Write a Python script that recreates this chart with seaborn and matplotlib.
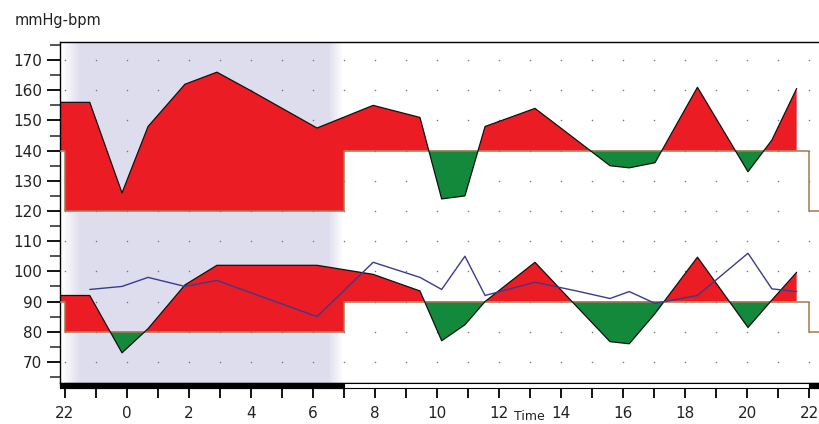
import numpy as np
import pandas as pd
import seaborn as sns
import matplotlib.pyplot as plt
import matplotlib.transforms as mtransforms
from matplotlib.ticker import MultipleLocator

# readings, hours counted from 22:00
times = [-0.16, 0.8, 1.84, 2.68, 3.87, 4.9, 5.97, 8.13, 9.94, 11.45, 12.15,
         12.9, 13.55, 15.16, 16.5, 17.58, 18.2, 19.03, 20.4, 22.03, 22.8, 23.6]
systolic = [156, 156, 126, 148, 162, 166, 160, 147.5, 155, 151, 124,
            125, 148, 154, 143.5, 135, 134.3, 136, 161, 133, 143.5, 160.6]
diastolic = [92, 92, 73, 81, 95.5, 102, 102, 102, 99, 93.5, 77,
             82.3, 90, 103, 88.4, 76.7, 76, 86, 104.7, 81.4, 90.5, 99.7]
heart_rate = [np.nan, 94, 95, 98, 95, 97, 93, 85, 103, 98, 94,
              105, 92, 96.4, 93.5, 91, 93.3, 89.4, 92, 106, 94.2, 93.3]

# day / night limits
night_from, night_to, next_night = 0, 9, 24       # 22:00 -> 07:00, 22:00
sleep_in = (-0.1, 0.48)     # lavender fade-in
sleep_out = (8.5, 8.97)     # lavender fade-out
sys_day, sys_night = 140, 120
dia_day, dia_night = 90, 80

hour_ticks = list(range(0, 25))
hour_labels = ['22', '', '0', '', '2', '', '4', '', '6', '', '8', '', '10', '',
               '12', '', '14', '', '16', '', '18', '', '20', '', '22']
y_major = list(range(70, 171, 10))

xmin, xmax = -0.16, 24.32
ymin, ymax = 63, 176

red = '#ec1c24'
green = '#13893c'
lavender = (0.871, 0.867, 0.933)
limit_col = '#a27a50'

sns.set_style('ticks')
plt.rcParams['font.family'] = ['DejaVu Sans']

fig = plt.figure(figsize=(8.19, 4.24), dpi=100)
ax = fig.add_axes([60 / 819, 41 / 424, 1 - 60 / 819, 341 / 424])


def limit(t, day, night):
    t = np.asarray(t)
    is_night = ((t >= night_from) & (t < night_to)) | (t >= next_night)
    return np.where(is_night, night, day)


# sleep shading with soft edges
xs = np.linspace(xmin, xmax, 1200)
a = np.minimum((xs - sleep_in[0]) / (sleep_in[1] - sleep_in[0]),
               (sleep_out[1] - xs) / (sleep_out[1] - sleep_out[0]))
rgba = np.ones((1, len(xs), 4))
rgba[..., :3] = lavender
rgba[..., 3] = np.clip(a, 0, 1)
ax.imshow(rgba, extent=[xmin, xmax, ymin, ymax], aspect='auto', zorder=0,
          interpolation='bilinear')

# dotted lattice
gx, gy = np.meshgrid(hour_ticks, y_major)
ax.scatter(gx.ravel(), gy.ravel(), s=1.2, color='#777777', zorder=1, linewidths=0)

# red / green areas against the limit
t_fill = np.union1d(np.linspace(times[0], times[-1], 4000),
                    [night_from - 1e-6, night_from, night_to - 1e-6, night_to])
for vals, day, night in [(systolic, sys_day, sys_night), (diastolic, dia_day, dia_night)]:
    v = np.interp(t_fill, times, vals)
    thr = limit(t_fill, day, night)
    ax.fill_between(t_fill, v, thr, where=v >= thr, interpolate=True,
                    color=red, lw=0, zorder=2)
    ax.fill_between(t_fill, v, thr, where=v <= thr, interpolate=True,
                    color=green, lw=0, zorder=2)
    # limit line
    ax.plot([xmin, night_from, night_to, next_night, xmax],
            [day, night, day, night, night], drawstyle='steps-post',
            color=limit_col, lw=1.1, zorder=3)

df = pd.DataFrame({'t': times, 'sys': systolic, 'dia': diastolic, 'hr': heart_rate})
sns.lineplot(data=df, x='t', y='sys', ax=ax, color='#111111', lw=0.9,
             estimator=None, sort=False, zorder=4)
sns.lineplot(data=df, x='t', y='dia', ax=ax, color='#111111', lw=0.9,
             estimator=None, sort=False, zorder=4)
sns.lineplot(data=df.dropna(), x='t', y='hr', ax=ax, color='#3b3b8e', lw=1.0,
             estimator=None, sort=False, zorder=5)

ax.set_xlim(xmin, xmax)
ax.set_ylim(ymin, ymax)
ax.set_xlabel('')
ax.set_ylabel('')

# night/day bar under the axis
trans = mtransforms.blended_transform_factory(ax.transData, ax.transAxes)
bar_h = 5 / 341
ax.broken_barh([(xmin, xmax - xmin)], (-bar_h, bar_h), transform=trans,
               facecolor='white', edgecolor='black', lw=0.8, clip_on=False, zorder=6)
ax.broken_barh([(xmin, night_to - xmin), (next_night, xmax - next_night)],
               (-bar_h, bar_h), transform=trans, facecolor='black',
               edgecolor='black', lw=0.8, clip_on=False, zorder=7)

ax.set_xticks(hour_ticks)
ax.set_xticklabels(hour_labels)
ax.set_yticks(y_major)
ax.yaxis.set_minor_locator(MultipleLocator(5))
ax.tick_params(axis='x', which='major', direction='out', length=10.8, width=1.3,
               pad=5.5, labelsize=11, colors='black')
ax.tick_params(axis='y', which='major', direction='out', length=9.5, width=1.3,
               pad=3.5, labelsize=11, colors='black')
ax.tick_params(axis='y', which='minor', direction='out', length=7, width=1.1)
for lab in ax.get_xticklabels() + ax.get_yticklabels():
    lab.set_color('#222222')

ax.spines['right'].set_visible(False)
for s in ['left', 'top', 'bottom']:
    ax.spines[s].set_color('black')
    ax.spines[s].set_linewidth(1.0)

fig.text(15 / 819, 1 - 21 / 424, 'mmHg-bpm', fontsize=10.5, va='center',
         ha='left', color='#222222')
# axis title, kept inside the canvas between the "12" and "14" labels
fig.text(529 / 819, 1 / 424, 'Time', fontsize=9, va='bottom', ha='center',
         color='#222222')

fig.savefig('out.png', dpi=100)
